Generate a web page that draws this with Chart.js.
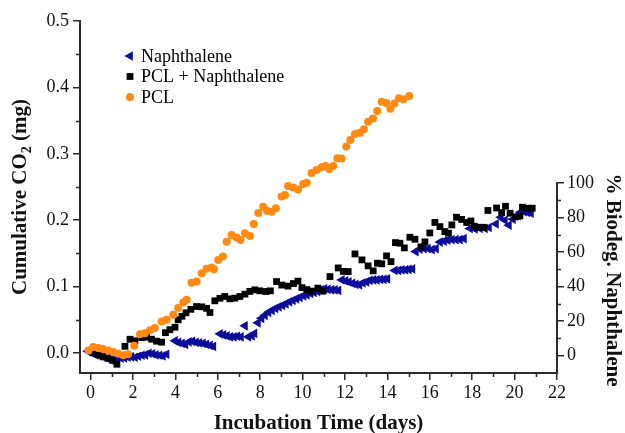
<!DOCTYPE html>
<html>
<head>
<meta charset="utf-8">
<script src="https://cdn.jsdelivr.net/npm/chart.js@4.4.1/dist/chart.umd.min.js"></script>
<style>
  html, body { margin: 0; padding: 0; background: #fff; }
</style>
</head>
<body>
<canvas id="chart" width="625" height="433"></canvas>
<script>
// values (days, cumulative CO2 in mg)
var naphDays = [-0.13,0.06,0.25,0.44,0.60,0.77,0.93,1.10,1.26,1.43,
    1.59,1.76,1.92,2.09,2.25,2.42,2.58,2.75,2.92,3.08,
    3.25,3.41,3.58,3.98,4.14,4.31,4.47,4.64,4.80,4.97,
    5.13,5.30,5.46,5.63,5.79,6.10,6.26,6.43,6.59,6.76,
    6.92,7.09,7.28,7.44,7.61,7.73,7.89,8.06,8.22,8.39,
    8.55,8.72,8.88,9.05,9.21,9.38,9.54,9.71,9.87,10.04,
    10.20,10.37,10.53,10.70,10.86,11.03,11.19,11.36,11.52,11.69,
    11.85,12.02,12.18,12.35,12.51,12.68,12.84,13.01,13.17,13.34,
    13.50,13.67,13.83,14.00,14.35,14.52,14.68,14.85,15.01,15.18,
    15.34,15.53,15.72,15.91,16.10,16.29,16.48,16.67,16.85,17.04,
    17.23,17.42,17.61,17.89,18.13,18.36,18.60,18.79,19.12,19.35,
    19.54,19.73,19.92,20.16,20.27,20.44,20.60,20.77];
var naphCO2 = [0.0027,-0.0003,-0.0026,-0.0041,-0.0056,-0.0078,-0.0101,-0.0093,-0.0086,-0.0078,
    -0.0071,-0.0063,-0.0056,-0.0063,-0.0048,-0.0033,-0.0026,-0.0003,-0.0011,-0.0026,
    -0.0033,-0.0041,-0.0018,0.0185,0.0162,0.0147,0.0132,0.0170,0.0177,0.0162,
    0.0155,0.0147,0.0132,0.0117,0.0102,0.0290,0.0275,0.0260,0.0245,0.0245,
    0.0253,0.0245,0.0411,0.0245,0.0260,0.0298,0.0456,0.0523,0.0568,0.0614,
    0.0644,0.0674,0.0696,0.0719,0.0742,0.0772,0.0795,0.0817,0.0840,0.0862,
    0.0877,0.0899,0.0914,0.0929,0.0952,0.0967,0.0959,0.0952,0.0952,0.0944,
    0.1102,0.1087,0.1072,0.1050,0.1035,0.1027,0.1057,0.1072,0.1095,0.1102,
    0.1102,0.1110,0.1110,0.1117,0.1245,0.1245,0.1253,0.1253,0.1260,0.1268,
    0.1529,0.1566,0.1574,0.1574,0.1559,0.1574,0.1672,0.1687,0.1702,0.1709,
    0.1709,0.1709,0.1724,0.1876,0.1869,0.1876,0.1876,0.1891,0.1944,0.2045,
    0.2000,0.1925,0.2015,0.2068,0.2120,0.2128,0.2120,0.2105];

var mixDays = [0.12,0.36,0.59,0.82,1.03,1.24,1.62,1.86,2.09,2.41,
    2.64,2.88,3.11,3.35,3.53,3.74,3.98,4.13,4.31,4.50,
    4.73,5.00,5.24,5.47,5.63,5.86,6.10,6.33,6.57,6.80,
    7.04,7.28,7.51,7.75,7.98,8.27,8.48,8.77,9.02,9.31,
    9.57,9.78,9.97,10.20,10.44,10.72,10.96,11.29,11.68,11.92,
    12.15,12.47,12.80,13.09,13.33,13.53,13.73,13.96,14.17,14.38,
    14.59,14.80,15.06,15.30,15.58,15.77,16.00,16.24,16.48,16.71,
    16.88,17.04,17.26,17.50,17.74,17.94,18.10,18.29,18.53,18.74,
    19.15,19.39,19.57,19.79,20.04,20.25,20.37,20.60,20.83];
var mixCO2 = [0.0005,-0.0026,-0.0056,-0.0078,-0.0108,-0.0168,0.0102,0.0208,0.0185,0.0232,
    0.0239,0.0209,0.0179,0.0164,0.0307,0.0352,0.0389,0.0501,0.0554,0.0606,
    0.0659,0.0701,0.0696,0.0674,0.0611,0.0787,0.0825,0.0852,0.0817,0.0827,
    0.0852,0.0887,0.0929,0.0952,0.0937,0.0927,0.0937,0.1077,0.1024,0.1009,
    0.1047,0.1083,0.0986,0.0956,0.0933,0.0978,0.0933,0.1152,0.1282,0.1230,
    0.1227,0.1493,0.1403,0.1313,0.1238,0.1353,0.1344,0.1463,0.1377,0.1663,
    0.1654,0.1584,0.1744,0.1714,0.1599,0.1674,0.1809,0.1967,0.1904,0.1829,
    0.1805,0.1930,0.2045,0.2012,0.1967,0.1989,0.1909,0.1894,0.1894,0.2147,
    0.2185,0.2115,0.2211,0.2105,0.2050,0.2065,0.2196,0.2181,0.2181];

var pclDays = [-0.10,0.12,0.36,0.59,0.83,1.07,1.30,1.54,1.77,2.06,
    2.33,2.56,2.80,3.03,3.35,3.58,3.90,4.13,4.37,4.53,
    4.76,5.00,5.24,5.47,5.71,5.82,6.02,6.24,6.42,6.65,
    6.89,7.07,7.28,7.52,7.70,7.91,8.14,8.32,8.54,8.74,
    9.01,9.17,9.32,9.56,9.79,10.03,10.19,10.42,10.66,10.90,
    11.08,11.25,11.44,11.64,11.84,12.06,12.25,12.47,12.70,12.89,
    13.09,13.32,13.52,13.73,13.95,14.14,14.33,14.54,14.76,15.03];
var pclCO2 = [0.0039,0.0090,0.0075,0.0060,0.0039,0.0015,-0.0011,-0.0033,-0.0018,0.0110,
    0.0283,0.0298,0.0344,0.0376,0.0475,0.0501,0.0576,0.0677,0.0762,0.0802,
    0.1057,0.1077,0.1203,0.1268,0.1290,0.1263,0.1403,0.1456,0.1678,0.1779,
    0.1741,0.1704,0.1804,0.1764,0.1945,0.2110,0.2203,0.2144,0.2128,0.2179,
    0.2356,0.2380,0.2516,0.2494,0.2464,0.2546,0.2566,0.2711,0.2757,0.2797,
    0.2817,0.2772,0.2817,0.2932,0.2929,0.3110,0.3208,0.3298,0.3318,0.3369,
    0.3482,0.3533,0.3644,0.3784,0.3764,0.3677,0.3759,0.3836,0.3821,0.3870];

var seriesNames = ["Naphthalene", "PCL + Naphthalene", "PCL"];

var xTicks = [0, 2, 4, 6, 8, 10, 12, 14, 16, 18, 20, 22];
var xMinor = [1, 3, 5, 7, 9, 11, 13, 15, 17, 19, 21];
var yTicks = [0, 0.1, 0.2, 0.3, 0.4, 0.5];
var yTickLabels = ["0.0", "0.1", "0.2", "0.3", "0.4", "0.5"];
var yMinor = [0.05, 0.15, 0.25, 0.35, 0.45];
var bioTicks = [0, 20, 40, 60, 80, 100];
var bioMinor = [10, 30, 50, 70, 90];

var FONT = "'Liberation Serif', 'Times New Roman', serif";
var AXIS = '#2a2a2a';

function pairs(xs, ys) {
    return xs.map(function(x, i) { return {x: x, y: ys[i]}; });
}
function fixTicks(values) {
    return function(scale) {
        scale.ticks = values.map(function(v) { return {value: v}; });
    };
}

// minor ticks, partial right axis, legend and axis titles
var decorations = {
    id: 'decorations',
    afterDraw: function(chart) {
        var ctx = chart.ctx;
        var area = chart.chartArea;
        var x = chart.scales.x, y = chart.scales.y, y1 = chart.scales.y1;
        ctx.save();
        ctx.strokeStyle = AXIS;
        ctx.lineWidth = 1.5;
        ctx.beginPath();
        xMinor.forEach(function(v) {
            var px = Math.round(x.getPixelForValue(v)) + 0.5;
            ctx.moveTo(px, area.bottom); ctx.lineTo(px, area.bottom + 4);
        });
        yMinor.forEach(function(v) {
            var py = Math.round(y.getPixelForValue(v)) + 0.5;
            ctx.moveTo(area.left, py); ctx.lineTo(area.left - 4, py);
        });
        bioMinor.forEach(function(v) {
            var py = Math.round(y1.getPixelForValue(v)) + 0.5;
            ctx.moveTo(area.right, py); ctx.lineTo(area.right + 4, py);
        });
        ctx.stroke();

        // right axis only runs up to 100 %
        ctx.lineWidth = 2;
        ctx.beginPath();
        ctx.moveTo(area.right, area.bottom + 1);
        ctx.lineTo(area.right, y1.getPixelForValue(100) - 1);
        ctx.stroke();

        // legend
        ctx.font = '18px ' + FONT;
        ctx.textBaseline = 'middle';
        ctx.fillStyle = '#000';
        chart.data.datasets.forEach(function(ds, i) {
            var cy = 56 + i * 20.5;
            ctx.fillStyle = ds.pointBackgroundColor;
            Chart.helpers.drawPoint(ctx, {
                pointStyle: ds.pointStyle,
                rotation: ds.pointRotation || 0,
                radius: ds.pointRadius,
                borderWidth: 0
            }, 130, cy);
            ctx.fillStyle = '#000';
            ctx.fillText(seriesNames[i], 141, cy + 1);
        });

        // axis titles
        ctx.font = 'bold 21px ' + FONT;
        ctx.fillStyle = '#111';
        ctx.textAlign = 'center';
        ctx.fillText('Incubation Time (days)', (area.left + area.right) / 2, 424);

        ctx.save();
        ctx.translate(21, (area.top + area.bottom) / 2);
        ctx.rotate(-Math.PI / 2);
        var a = 'Cumulative CO', b = '2', c = ' (mg)';
        ctx.font = 'bold 21px ' + FONT;
        var wa = ctx.measureText(a).width, wc = ctx.measureText(c).width;
        ctx.font = 'bold 14px ' + FONT;
        var wb = ctx.measureText(b).width;
        var start = -(wa + wb + wc) / 2;
        ctx.textAlign = 'left';
        ctx.font = 'bold 21px ' + FONT;
        ctx.fillText(a, start, 0);
        ctx.font = 'bold 14px ' + FONT;
        ctx.fillText(b, start + wa, 6);
        ctx.font = 'bold 21px ' + FONT;
        ctx.fillText(c, start + wa + wb, 0);
        ctx.restore();

        ctx.save();
        ctx.translate(612, 280);
        ctx.rotate(Math.PI / 2);
        ctx.textAlign = 'center';
        ctx.fillText('% Biodeg. Naphthalene', 0, 0);
        ctx.restore();
        ctx.restore();
    }
};

var tickFont = {family: FONT, size: 18};

new Chart(document.getElementById('chart').getContext('2d'), {
    type: 'scatter',
    data: {
        datasets: [{
            label: seriesNames[0],
            data: pairs(naphDays, naphCO2),
            pointStyle: 'triangle',
            pointRotation: -90,
            pointRadius: 5.6,
            pointBorderWidth: 0,
            pointBackgroundColor: '#0d0d9c',
            order: 2
        }, {
            label: seriesNames[1],
            data: pairs(mixDays, mixCO2),
            pointStyle: 'rect',
            pointRadius: 4.8,
            pointBorderWidth: 0,
            pointBackgroundColor: '#000000',
            order: 1
        }, {
            label: seriesNames[2],
            data: pairs(pclDays, pclCO2),
            pointStyle: 'circle',
            pointRadius: 4,
            pointBorderWidth: 0,
            pointBackgroundColor: '#ff8a12',
            order: 0
        }]
    },
    options: {
        responsive: false,
        animation: false,
        events: [],
        layout: {padding: {top: 21, left: 0, right: 0, bottom: 0}},
        plugins: {legend: {display: false}, tooltip: {enabled: false}},
        scales: {
            x: {
                type: 'linear', position: 'bottom', min: -0.5, max: 22,
                afterBuildTicks: fixTicks(xTicks),
                afterFit: function(s) { s.height = 60; },
                grid: {drawOnChartArea: false, tickLength: 7, tickColor: AXIS, lineWidth: 1.5},
                border: {display: true, color: AXIS, width: 2},
                ticks: {font: tickFont, color: '#111', padding: 2, maxRotation: 0}
            },
            y: {
                type: 'linear', position: 'left', min: -0.03, max: 0.5,
                afterBuildTicks: fixTicks(yTicks),
                afterFit: function(s) { s.width = 80; },
                grid: {drawOnChartArea: false, tickLength: 7, tickColor: AXIS, lineWidth: 1.5},
                border: {display: true, color: AXIS, width: 2},
                ticks: {font: tickFont, color: '#111', padding: 4,
                    callback: function(v, i) { return yTickLabels[i]; }}
            },
            y1: {
                type: 'linear', position: 'right', min: -10, max: 194,
                afterBuildTicks: fixTicks(bioTicks),
                afterFit: function(s) { s.width = 68; },
                grid: {drawOnChartArea: false, tickLength: 7, tickColor: AXIS, lineWidth: 1.5},
                border: {display: false},
                ticks: {font: tickFont, color: '#111', padding: 3}
            }
        }
    },
    plugins: [decorations]
});
</script>
</body>
</html>
